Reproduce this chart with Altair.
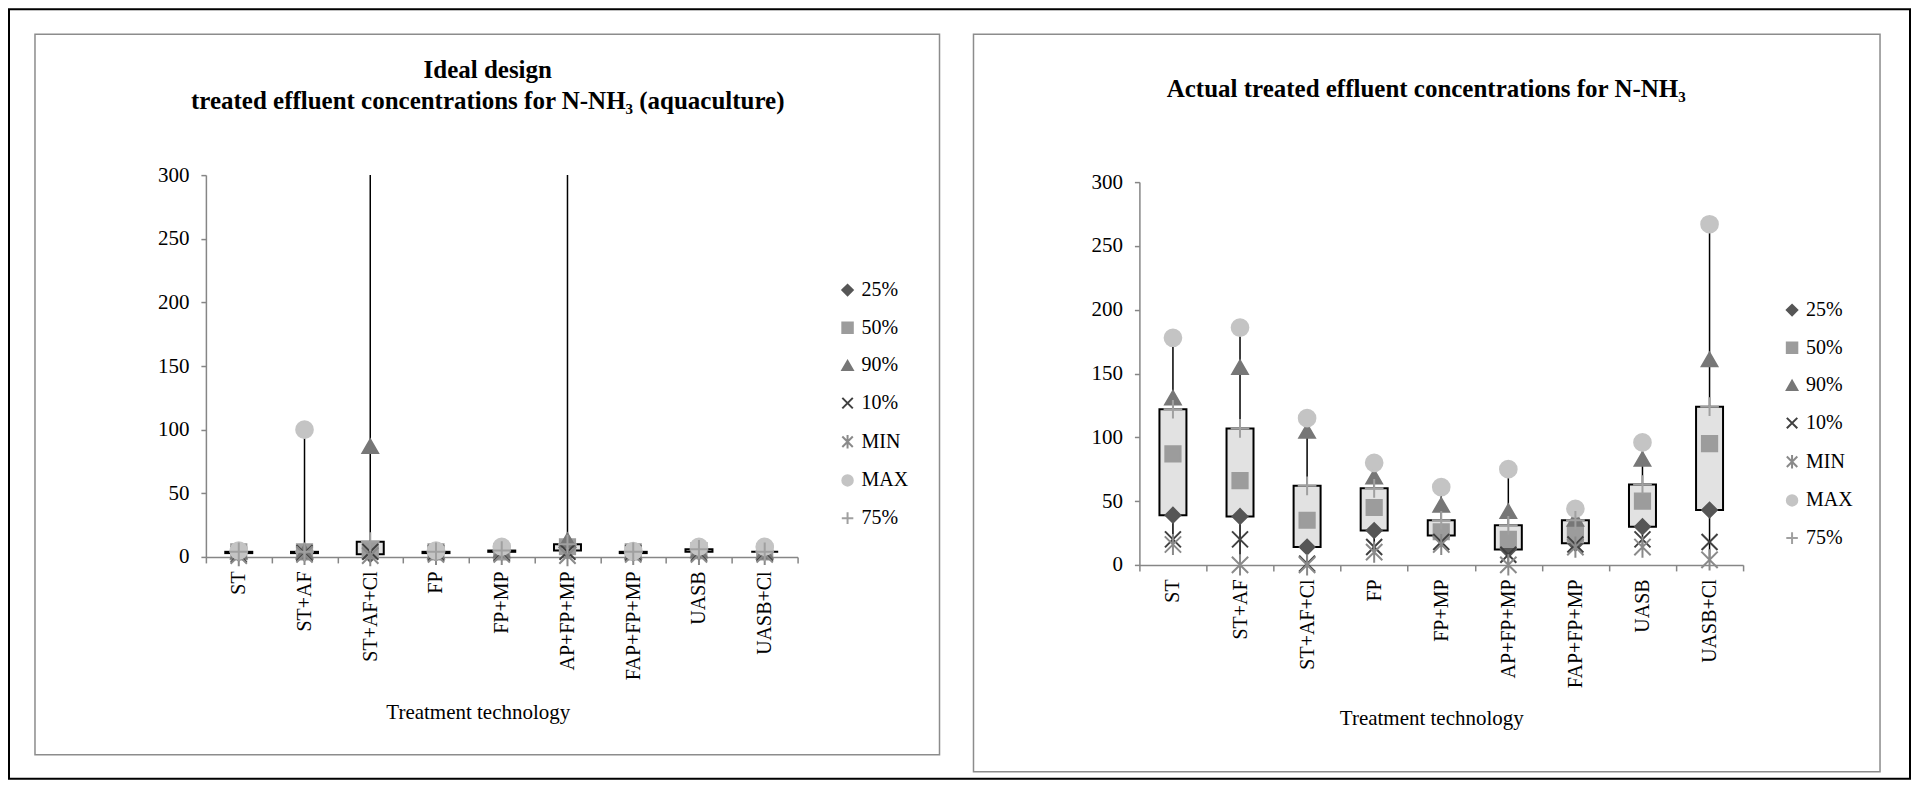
import altair as alt
import pandas as pd

categories = ["ST", "ST+AF", "ST+AF+Cl", "FP", "FP+MP", "AP+FP+MP", "FAP+FP+MP", "UASB", "UASB+Cl"]
series_names = ["25%", "50%", "90%", "10%", "MIN", "MAX", "75%"]

# Ideal design (aquaculture) (MAX above 300 is off-scale)
ideal_p25 = [3, 3, 2, 3, 4, 5, 3, 4, 4]
ideal_p50 = [4, 4, 5, 4, 4, 8, 4, 5, 4]
ideal_p90 = [4, 4, 87, 4, 5, 13, 4, 5, 4]
ideal_p10 = [2, 3, 4, 3, 3, 4, 3, 3, 3]
ideal_min = [1, 2, 1, 2, 2, 1, 2, 2, 2]
ideal_max = [5, 100, 400, 5, 8, 400, 4.5, 8, 8]
ideal_p75 = [4, 4, 12, 4, 5, 10, 4, 6, 4]

# Actual treated effluent
actual_p25 = [39, 38, 14, 27, 23, 12, 17, 30, 43]
actual_p50 = [87, 66, 35, 45, 26, 20, 24, 50, 95]
actual_p90 = [131, 155, 105, 69, 47, 42, 36, 83, 161]
actual_p10 = [20, 20, 1, 14, 18, 8, 16, 20, 18]
actual_min = [16, 0, 0, 10, 16, 0, 14, 14, 4]
actual_max = [178, 186, 115, 80, 61, 75, 44, 96, 267]
actual_p75 = [122, 107, 62, 60, 35, 31, 35, 63, 124]

y_ticks = [0, 50, 100, 150, 200, 250, 300]

FONT = "Liberation Serif"
AXIS_GREY = "#868686"

marker_fill = ["#565656", "#9c9c9c", "#777777", "transparent", "transparent", "#c4c4c4", "transparent"]
marker_stroke = ["#565656", "#9c9c9c", "#777777", "#404040", "#8a8a8a", "#c4c4c4", "#a0a0a0"]
marker_shape = ["diamond", "square", "triangle-up",
                "M-1,-1L1,1M1,-1L-1,1",
                "M-1,-1L1,1M1,-1L-1,1M0,-1.3L0,1.3",
                "circle",
                "M-1.1,0L1.1,0M0,-1.1L0,1.1"]
marker_size = [210, 290, 300, 300, 300, 220, 290]


def long_table(cols):
    rows = []
    for s, vals in zip(series_names, cols):
        for c, v in zip(categories, vals):
            rows.append({"tech": c, "series": s, "value": v})
    return pd.DataFrame(rows)


def wide_table(p25, p75, mn, mx):
    return pd.DataFrame({"tech": categories, "p25": p25, "p75": p75, "lo": mn, "hi": mx})


one_row = pd.DataFrame({"k": [0]})


def frame(x0, x1, y0, y1, color, width):
    return alt.Chart(one_row).mark_rect(fill="transparent", stroke=color, strokeWidth=width).encode(
        x=alt.value(x0), x2=alt.value(x1), y=alt.value(y0), y2=alt.value(y1))


def make_panel(long_df, wide_df, width, height, y_range, frames, legend_x, legend_y,
               title, title_dx, title_offset, xtitle_x, xtitle_y):
    x_enc = alt.X("tech:N", sort=categories,
                  scale=alt.Scale(domain=categories, paddingInner=0, paddingOuter=0),
                  axis=alt.Axis(title="Treatment technology", labelAngle=270, labelFont=FONT,
                                labelFontSize=20, labelColor="black", labelPadding=8,
                                tickBand="extent", tickSize=6, tickColor=AXIS_GREY, tickWidth=1.5,
                                domainColor=AXIS_GREY, domainWidth=1.5, grid=False,
                                titleFont=FONT, titleFontSize=21, titleFontWeight="normal",
                                titleColor="black", titleX=xtitle_x, titleY=xtitle_y,
                                titleBaseline="middle", titleAlign="center"))
    y_scale = alt.Scale(domain=[0, 300], range=y_range, nice=False, zero=True)
    y_axis = alt.Axis(title=None, values=y_ticks, labelFont=FONT, labelFontSize=21,
                      labelColor="black", labelPadding=12, tickSize=5, tickColor=AXIS_GREY,
                      tickWidth=1.5, domainColor=AXIS_GREY, domainWidth=1.5, grid=False)
    legend = alt.Legend(title=None, orient="none", legendX=legend_x, legendY=legend_y,
                        labelFont=FONT, labelFontSize=20, labelColor="black", symbolSize=110,
                        symbolStrokeWidth=2, rowPadding=17.7, labelOffset=4, padding=0,
                        symbolOpacity=1)
    rule = alt.Chart(wide_df).mark_rule(color="black", strokeWidth=1.5, clip=True).encode(
        x=x_enc, y=alt.Y("lo:Q", scale=y_scale, axis=y_axis), y2="hi:Q")
    box = alt.Chart(wide_df).mark_bar(width=27, fill="#e2e2e2", stroke="black", strokeWidth=2).encode(
        x=x_enc, y=alt.Y("p25:Q", scale=y_scale, axis=y_axis), y2="p75:Q")
    pts = alt.Chart(long_df).transform_filter("datum.value <= 300").mark_point(
        opacity=1, strokeWidth=2).encode(
        x=x_enc,
        y=alt.Y("value:Q", scale=y_scale, axis=y_axis),
        fill=alt.Fill("series:N", scale=alt.Scale(domain=series_names, range=marker_fill), legend=legend),
        stroke=alt.Stroke("series:N", scale=alt.Scale(domain=series_names, range=marker_stroke), legend=legend),
        shape=alt.Shape("series:N", scale=alt.Scale(domain=series_names, range=marker_shape), legend=legend),
        # size scale uses the reversed domain so that its (hidden) legend is not merged with the shown one
        size=alt.Size("series:N", scale=alt.Scale(domain=series_names[::-1], range=marker_size[::-1]),
                      legend=None),
    )
    frame_layers = [frame(*f) for f in frames]
    return alt.layer(*frame_layers, rule, box, pts).properties(
        width=width, height=height,
        title=alt.TitleParams(text=title, font=FONT, fontSize=25, fontWeight="bold", color="black",
                              anchor="middle", frame="group", dx=title_dx, offset=title_offset,
                              lineHeight=31))


ideal_long = long_table([ideal_p25, ideal_p50, ideal_p90, ideal_p10, ideal_min, ideal_max, ideal_p75])
ideal_wide = wide_table(ideal_p25, ideal_p75, ideal_min, ideal_max)
actual_long = long_table([actual_p25, actual_p50, actual_p90, actual_p10, actual_min, actual_max, actual_p75])
actual_wide = wide_table(actual_p25, actual_p75, actual_min, actual_max)

left = make_panel(
    ideal_long, ideal_wide, 592, 382, [382, 0],
    [(-171, 734, -141, 580, "#8c8c8c", 1.5), (-197, 1705, -166, 604, "black", 2)],
    632, 105,
    ["Ideal design", "treated effluent concentrations for N-NH\u2083 (aquaculture)"],
    -14, -106, 272, 156)

right = make_panel(
    actual_long, actual_wide, 604, 390, [390, 7],
    [(-166, 741, -141, 597, "#8c8c8c", 1.5)],
    643, 125,
    "Actual treated effluent concentrations for N-NH\u2083",
    -15, -69, 292, 154)

chart = alt.hconcat(left, right, spacing=342, bounds="flush").resolve_scale(
    fill="independent", stroke="independent", shape="independent", size="independent"
).properties(padding=0).configure(
    background="white", font=FONT).configure_view(strokeWidth=0)

chart.save("out.html", embed_options={"renderer": "svg", "actions": False})
